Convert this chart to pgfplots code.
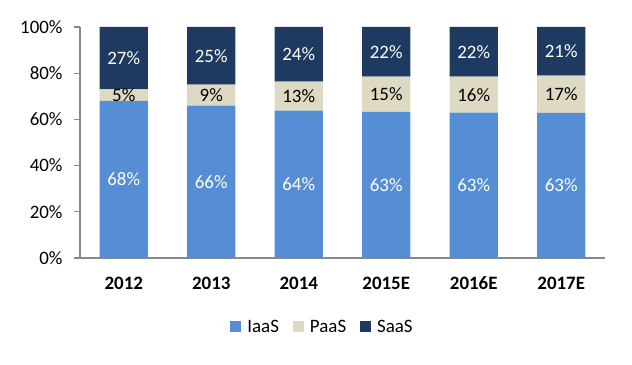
\documentclass[border=0pt]{standalone}
\usepackage{pgfplots}
\usepackage{pgfplotstable}
\pgfplotsset{compat=1.18}
\usepackage{fontspec}
\setmainfont{Carlito}
\definecolor{iaas}{HTML}{558ED5}
\definecolor{paas}{HTML}{DDD9C3}
\definecolor{saas}{HTML}{1F3A60}
\definecolor{axgray}{HTML}{898989}
\pgfplotstableread{
x I P S Il Pl Sl
0 68 5 27 68 5 27
1 66 9 25 66 9 25
2 63.8 12.5 23.7 64 13 24
3 63.3 15.2 21.5 63 15 22
4 62.9 15.6 21.5 63 16 22
5 62.8 16.2 21.0 63 17 21
}\data
\begin{document}
\begin{tikzpicture}
\useasboundingbox (-80bp,-107bp) rectangle (552bp,258bp);
\begin{axis}[
  scale only axis, width=525bp, height=231bp,
  anchor=south west, at={(0,0)},
  ybar stacked, bar width=0.55,
  xmin=-0.5, xmax=5.5, ymin=0, ymax=100,
  axis x line*=bottom, axis y line*=left,
  axis line style={axgray, line width=1.2pt},
  xtick={0,...,5},
  xticklabels={2012,2013,2014,2015E,2016E,2017E},
  major x tick style={draw=none},
  extra x ticks={-0.5,0.5,1.5,2.5,3.5,4.5,5.5},
  extra x tick labels={},
  extra x tick style={tick style={axgray, line width=1.2pt}, major tick length=6bp, tick align=outside},
  ytick={0,20,...,100},
  yticklabel={\pgfmathprintnumber{\tick}\%},
  y tick style={axgray, line width=1.2pt}, major tick length=6bp, tick align=outside,
  /pgf/number format/assume math mode=true,
  ticklabel style={font=\fontsize{19}{22}\selectfont},
  xticklabel style={font=\fontsize{19}{22}\selectfont\bfseries, anchor=north, text height=13bp, text depth=0bp, yshift=-9bp},
  yticklabel style={xshift=-8bp},
  point meta=explicit symbolic,
  nodes near coords={\pgfplotspointmeta\%},
  every node near coord/.append style={anchor=center, font=\fontsize{19}{22}\selectfont},
  legend columns=3,
  legend style={draw=none, at={(0.462,-0.299)}, anchor=center, font=\fontsize{19}{22}\selectfont},
  legend image code/.code={\fill[#1] (0bp,-5bp) rectangle (11bp,6bp); \path (15bp,0bp);},
]
\addplot[fill=iaas, draw=none,
  every node near coord/.append style={text=white}] table[x=x, y=I, meta=Il] {\data};
\addplot[fill=paas, draw=none,
  every node near coord/.append style={text=black}] table[x=x, y=P, meta=Pl] {\data};
\addplot[fill=saas, draw=none,
  every node near coord/.append style={text=white}] table[x=x, y=S, meta=Sl] {\data};
\legend{IaaS\rule{12bp}{0pt}, PaaS\rule{12bp}{0pt}, SaaS}
\end{axis}
\end{tikzpicture}
\end{document}
